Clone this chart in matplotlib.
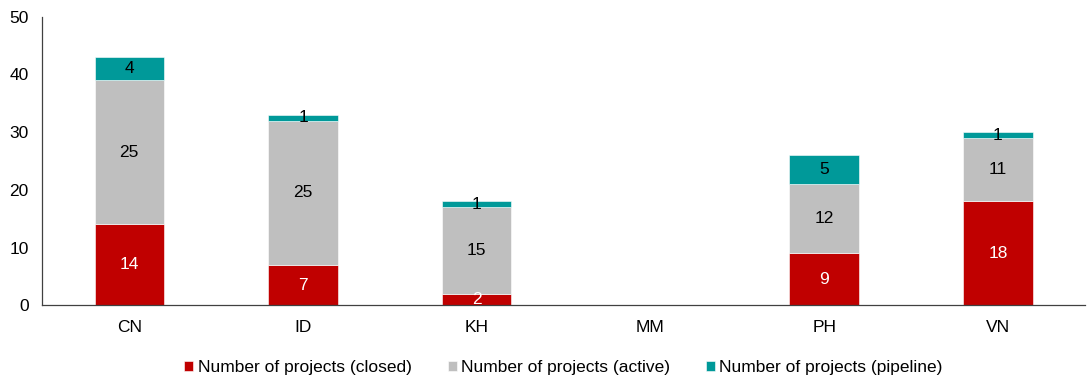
import numpy as np
import matplotlib.pyplot as plt

plt.rcParams['font.family'] = ['Liberation Sans', 'DejaVu Sans']

countries = ['CN', 'ID', 'KH', 'MM', 'PH', 'VN']
closed = [14, 7, 2, 0, 9, 18]
active = [25, 25, 15, 0, 12, 11]
pipeline = [4, 1, 1, 0, 5, 1]

series = [
    ('Number of projects (closed)', closed, '#C00000', 'white'),
    ('Number of projects (active)', active, '#BFBFBF', 'black'),
    ('Number of projects (pipeline)', pipeline, '#009999', 'black'),
]

fig = plt.figure(figsize=(10.87, 3.82), dpi=100)
ax = fig.add_axes([0.039, 0.201, 0.959, 0.755])

x = np.arange(len(countries))
bottom = np.zeros(len(countries))
for name, vals, color, txt in series:
    vals = np.array(vals, dtype=float)
    bars = ax.bar(x, vals, 0.4, bottom=bottom, color=color, label=name,
                  edgecolor='white', linewidth=0.4)
    # value labels in the middle of each segment
    for b, v, y0 in zip(bars, vals, bottom):
        if v > 0:
            ax.text(b.get_x() + b.get_width() / 2, y0 + v / 2, f'{int(v)}',
                    ha='center', va='center', color=txt, fontsize=12.5)
    bottom += vals

ax.set_xlim(-0.5, len(countries) - 0.5)
ax.set_ylim(0, 50)
ax.set_yticks(range(0, 51, 10))
ax.set_xticks(x)
ax.set_xticklabels(countries)
ax.tick_params(length=0, labelsize=12.5)
ax.tick_params(axis='x', pad=11)
ax.tick_params(axis='y', pad=10)
for s in ['top', 'right']:
    ax.spines[s].set_visible(False)
for s in ['left', 'bottom']:
    ax.spines[s].set_color('#404040')
    ax.spines[s].set_linewidth(0.9)

ax.legend(loc='center', bbox_to_anchor=(0.5, -0.215), ncol=3, frameon=False,
          fontsize=12.5, handlelength=0.5, handleheight=0.5, handletextpad=0.25,
          columnspacing=2.1)

fig.savefig('out.png', dpi=100)
